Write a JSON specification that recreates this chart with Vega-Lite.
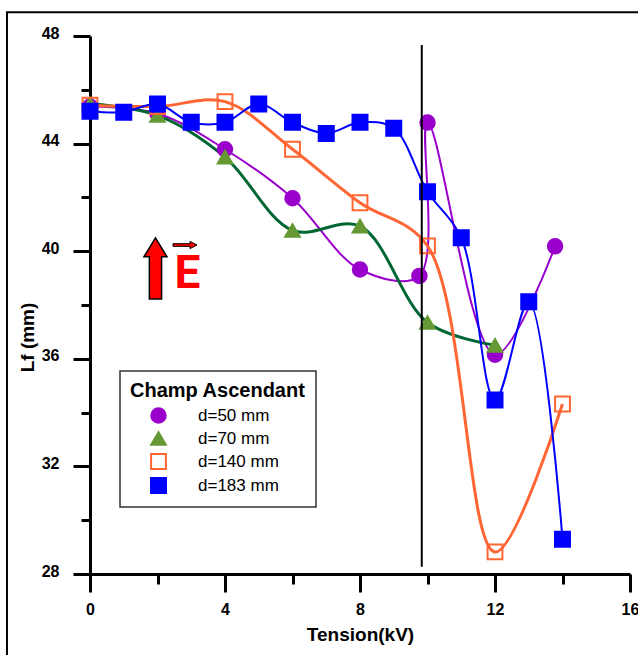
{
  "$schema": "https://vega.github.io/schema/vega-lite/v6.json",
  "width": 540,
  "height": 538,
  "autosize": {"type": "none"},
  "padding": {"left": 90, "top": 36, "right": 8, "bottom": 81},
  "background": "white",
  "config": {
    "view": {"stroke": null},
    "axis": {
      "domainColor": "black", "domainWidth": 3, "tickColor": "black", "tickWidth": 3,
      "labelFont": "Liberation Sans", "labelFontSize": 16, "labelFontWeight": "bold", "labelColor": "black",
      "titleFont": "Liberation Sans", "titleFontSize": 19, "titleFontWeight": "bold", "titleColor": "black",
      "grid": false, "labelFlush": false, "labelOverlap": false
    },
    "legend": {
      "orient": "none", "legendX": 30, "legendY": 335,
      "strokeColor": "#333333", "strokeWidth": 1.5, "padding": 10, "fillColor": "white",
      "titleFont": "Liberation Sans", "titleFontSize": 20, "titleFontWeight": "bold", "titleColor": "black",
      "titleAnchor": "start", "titlePadding": 6,
      "labelFont": "Liberation Sans", "labelFontSize": 17, "labelColor": "black",
      "labelOffset": 31, "symbolOffset": 20, "rowPadding": 1, "symbolStrokeWidth": 2
    }
  },
  "datasets": {
    "series": [
      {"series": "d=50 mm", "x": 0, "y": 45.38},
      {"series": "d=50 mm", "x": 2, "y": 45.12},
      {"series": "d=50 mm", "x": 4, "y": 43.79},
      {"series": "d=50 mm", "x": 6, "y": 41.97},
      {"series": "d=50 mm", "x": 8, "y": 39.32},
      {"series": "d=50 mm", "x": 9.76, "y": 39.08},
      {"series": "d=50 mm", "x": 10, "y": 44.78},
      {"series": "d=50 mm", "x": 12, "y": 36.15},
      {"series": "d=50 mm", "x": 13.78, "y": 40.18},
      {"series": "d=70 mm", "x": 0, "y": 45.48},
      {"series": "d=70 mm", "x": 2, "y": 45.05},
      {"series": "d=70 mm", "x": 4, "y": 43.5},
      {"series": "d=70 mm", "x": 6, "y": 40.77},
      {"series": "d=70 mm", "x": 8, "y": 40.93},
      {"series": "d=70 mm", "x": 10, "y": 37.35},
      {"series": "d=70 mm", "x": 12, "y": 36.5},
      {"series": "d=140 mm", "x": 0, "y": 45.43},
      {"series": "d=140 mm", "x": 2, "y": 45.38},
      {"series": "d=140 mm", "x": 4, "y": 45.56},
      {"series": "d=140 mm", "x": 6, "y": 43.79},
      {"series": "d=140 mm", "x": 8, "y": 41.8},
      {"series": "d=140 mm", "x": 10, "y": 40.2},
      {"series": "d=140 mm", "x": 12, "y": 28.82},
      {"series": "d=140 mm", "x": 14, "y": 34.32},
      {"series": "d=183 mm", "x": 0, "y": 45.2},
      {"series": "d=183 mm", "x": 1, "y": 45.17},
      {"series": "d=183 mm", "x": 2, "y": 45.47},
      {"series": "d=183 mm", "x": 3, "y": 44.79},
      {"series": "d=183 mm", "x": 4, "y": 44.79},
      {"series": "d=183 mm", "x": 5, "y": 45.47},
      {"series": "d=183 mm", "x": 6, "y": 44.79},
      {"series": "d=183 mm", "x": 7, "y": 44.38},
      {"series": "d=183 mm", "x": 8, "y": 44.79},
      {"series": "d=183 mm", "x": 9, "y": 44.57},
      {"series": "d=183 mm", "x": 10, "y": 42.21},
      {"series": "d=183 mm", "x": 11, "y": 40.5},
      {"series": "d=183 mm", "x": 12, "y": 34.47},
      {"series": "d=183 mm", "x": 13, "y": 38.12},
      {"series": "d=183 mm", "x": 14, "y": 29.29}
    ],
    "frame": [{"x": -2.46, "x2": 20, "y": 48.88, "y2": 20}],
    "marker": [{"x": 9.83, "y": 47.67, "y2": 28.27}],
    "arrowUp": [{"x": 1.94, "y": 39.36}],
    "arrowRight": [{"x": 2.815, "y": 40.23}],
    "label": [{"x": 2.889, "y": 38.63, "text": "E"}]
  },
  "encoding": {
    "x": {
      "field": "x", "type": "quantitative",
      "scale": {"domain": [0, 16], "nice": false, "zero": false},
      "axis": {
        "orient": "bottom",
        "title": "Tension(kV)",
        "values": [0, 2, 4, 6, 8, 10, 12, 14, 16],
        "labelExpr": "datum.value % 4 === 0 ? datum.label : ''",
        "tickSize": {"condition": {"test": "datum.value % 4 === 0", "value": 18}, "value": 10},
        "labelPadding": 9,
        "titlePadding": 8
      }
    },
    "y": {
      "field": "y", "type": "quantitative",
      "scale": {"domain": [28, 48], "nice": false, "zero": false},
      "axis": {
        "orient": "left",
        "title": "Lf (mm)",
        "values": [28, 30, 32, 34, 36, 38, 40, 42, 44, 46, 48],
        "labelExpr": "datum.value % 4 === 0 ? datum.label : ''",
        "tickSize": {"condition": {"test": "datum.value % 4 === 0", "value": 17}, "value": 9},
        "labelPadding": 14,
        "labelOffset": -3,
        "titlePadding": 4,
        "titleY": 301
      }
    }
  },
  "layer": [
    {
      "data": {"name": "frame"},
      "mark": {"type": "rect", "filled": false, "stroke": "black", "strokeWidth": 2, "clip": false},
      "encoding": {"x2": {"field": "x2"}, "y2": {"field": "y2"}}
    },
    {
      "data": {"name": "series"},
      "transform": [{"filter": "datum.series === 'd=50 mm'"}],
      "mark": {"type": "line", "interpolate": "catmull-rom", "color": "#9900CC", "strokeWidth": 2}
    },
    {
      "data": {"name": "series"},
      "transform": [{"filter": "datum.series === 'd=70 mm'"}],
      "mark": {"type": "line", "interpolate": "catmull-rom", "color": "#006633", "strokeWidth": 3}
    },
    {
      "data": {"name": "series"},
      "transform": [{"filter": "datum.series === 'd=140 mm'"}],
      "mark": {"type": "line", "interpolate": "catmull-rom", "color": "#FF6633", "strokeWidth": 3}
    },
    {
      "data": {"name": "series"},
      "transform": [{"filter": "datum.series === 'd=183 mm'"}],
      "mark": {"type": "line", "interpolate": "catmull-rom", "color": "#0000FF", "strokeWidth": 2}
    },
    {
      "data": {"name": "series"},
      "mark": {"type": "point", "opacity": 1, "strokeWidth": 2},
      "encoding": {
        "fill": {
          "field": "series", "type": "nominal", "title": "Champ Ascendant",
          "scale": {"domain": ["d=50 mm", "d=70 mm", "d=140 mm", "d=183 mm"], "range": ["#9900CC", "#669933", "transparent", "#0000FF"]}
        },
        "stroke": {
          "field": "series", "type": "nominal", "title": "Champ Ascendant",
          "scale": {"domain": ["d=50 mm", "d=70 mm", "d=140 mm", "d=183 mm"], "range": ["#9900CC", "#669933", "#FF6633", "#0000FF"]}
        },
        "shape": {
          "field": "series", "type": "nominal", "title": "Champ Ascendant",
          "scale": {"domain": ["d=50 mm", "d=70 mm", "d=140 mm", "d=183 mm"], "range": ["circle", "triangle-up", "square", "square"]}
        },
        "size": {
          "field": "series", "type": "nominal", "title": "Champ Ascendant",
          "scale": {"domain": ["d=50 mm", "d=70 mm", "d=140 mm", "d=183 mm"], "range": [210, 225, 170, 150]}
        }
      }
    },
    {
      "data": {"name": "arrowUp"},
      "mark": {"type": "point", "shape": "M0,-1L0.38,-0.38L0.2,-0.38L0.2,1L-0.2,1L-0.2,-0.38L-0.38,-0.38Z", "size": 3721, "filled": true, "fill": "#FF0000", "stroke": "black", "strokeWidth": 1.5, "opacity": 1}
    },
    {
      "data": {"name": "arrowRight"},
      "mark": {"type": "point", "shape": "M-1,-0.11L0.42,-0.11L0.42,-0.3L1,0L0.42,0.3L0.42,0.11L-1,0.11Z", "size": 576, "filled": true, "fill": "#FF0000", "stroke": "black", "strokeWidth": 1, "opacity": 1}
    },
    {
      "data": {"name": "label"},
      "mark": {"type": "text", "font": "Roboto", "fontSize": 46, "fontWeight": "bold", "color": "#FF0000", "align": "center", "baseline": "alphabetic"},
      "encoding": {"text": {"field": "text"}}
    },
    {
      "data": {"name": "marker"},
      "mark": {"type": "rule", "color": "black", "strokeWidth": 2},
      "encoding": {"y2": {"field": "y2"}}
    }
  ]
}
